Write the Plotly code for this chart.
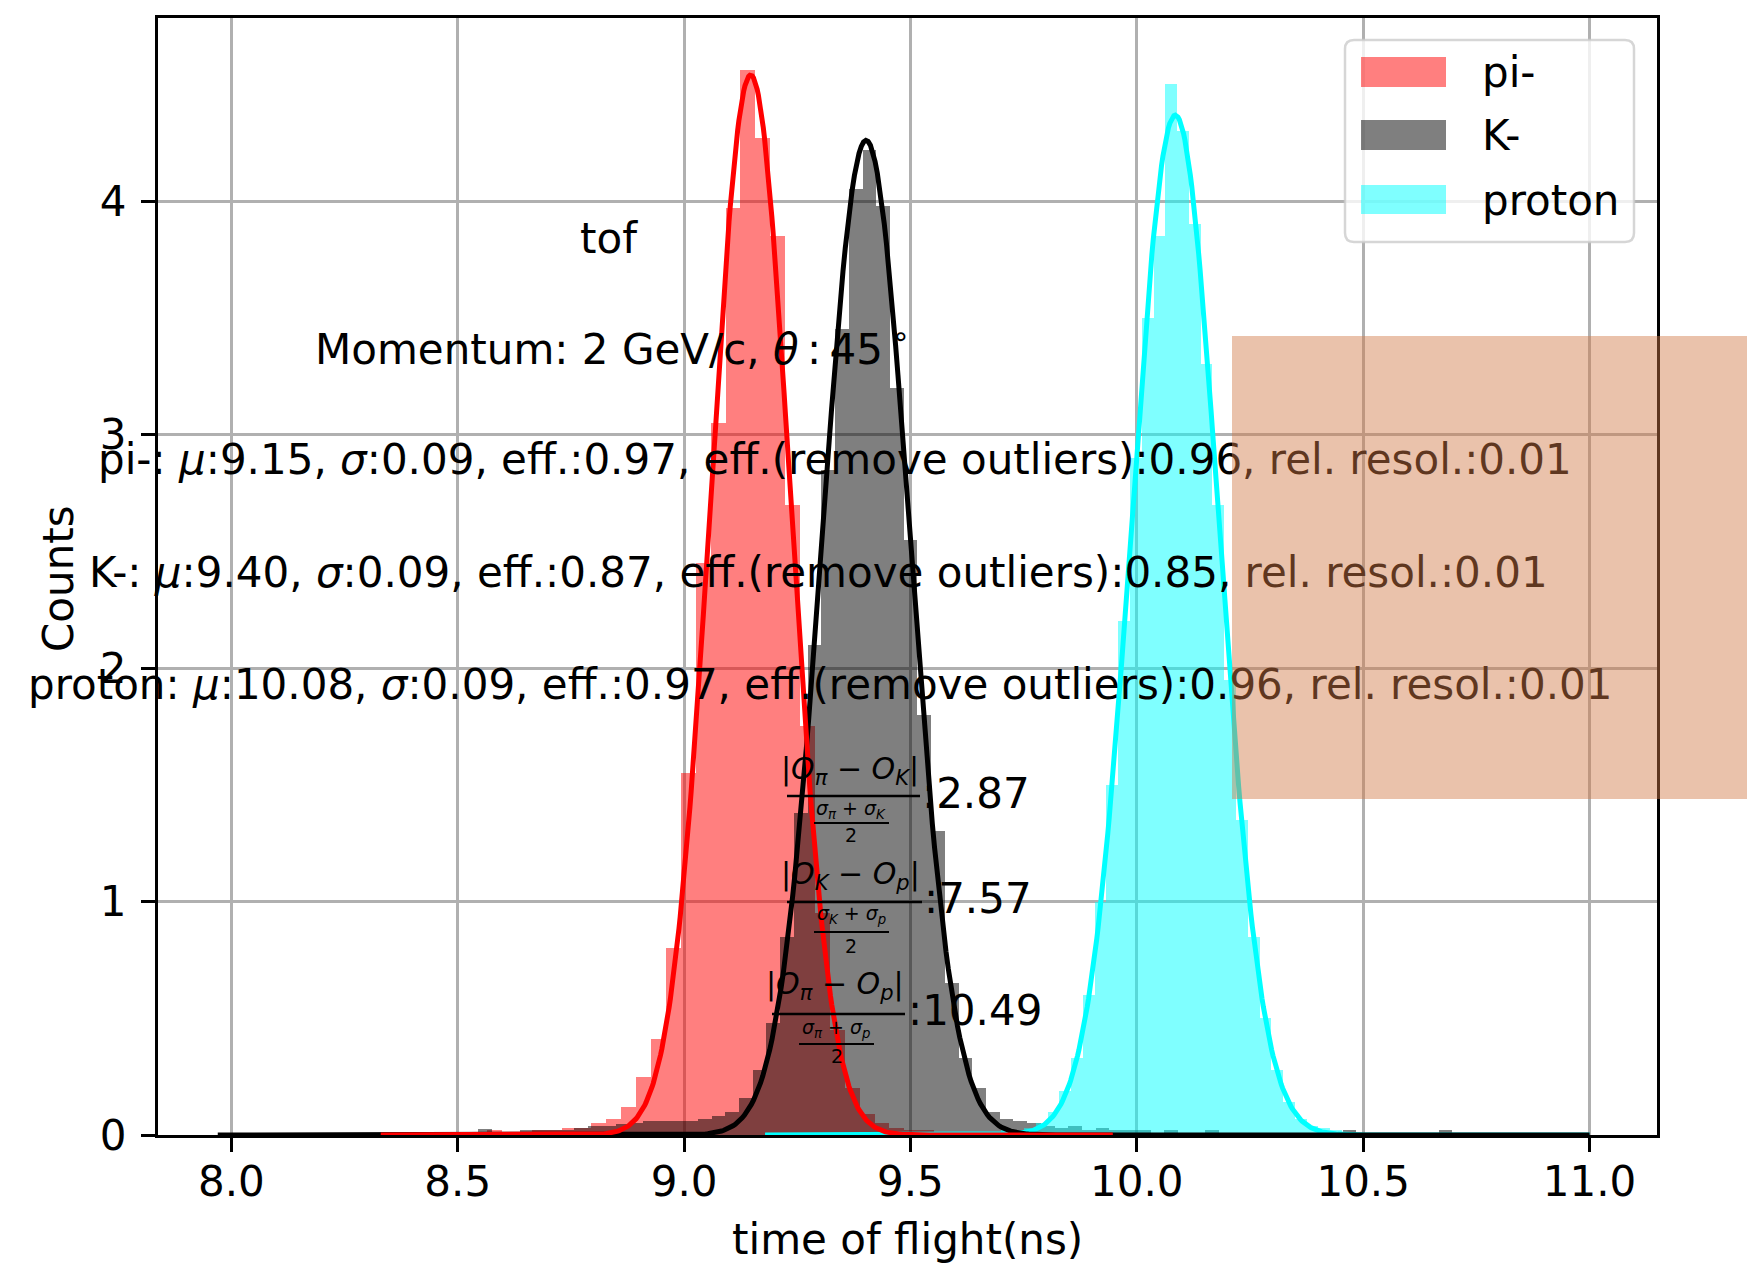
import numpy as np
import plotly.graph_objects as go

# ---------------- data ----------------
particles = ["pi-", "K-", "proton"]

pi_bin_start, pi_bin_width = 8.302, 0.0329
pi_heights = [0.01, 0.0, 0.0, 0.0, 0.01, 0.0, 0.01, 0.0, 0.02, 0.01,
              0.01, 0.02, 0.02, 0.03, 0.03, 0.05, 0.07, 0.12, 0.25, 0.41,
              0.80, 1.55, 2.45, 3.05, 3.97, 4.56, 4.27, 3.85, 2.70, 1.75,
              0.95, 0.45, 0.20, 0.09, 0.05, 0.03, 0.02, 0.02, 0.01, 0.01,
              0.0, 0.01, 0.0, 0.01, 0.0, 0.0, 0.01, 0.0, 0.0, 0.01]

k_bin_start, k_bin_width = 7.97, 0.0303
k_heights = [0.01, 0.005, 0.005, 0.01, 0.005, 0.005, 0.01, 0.005, 0.01, 0.005,
             0.01, 0.005, 0.005, 0.01, 0.01, 0.005, 0.01, 0.01, 0.01, 0.025,
             0.01, 0.01, 0.02, 0.02, 0.02, 0.02, 0.03, 0.04, 0.04, 0.045,
             0.05, 0.06, 0.06, 0.06, 0.06, 0.07, 0.08, 0.10, 0.16, 0.28,
             0.48, 0.85, 1.38, 2.10, 2.85, 3.45, 4.05, 4.22, 3.98, 3.20,
             2.55, 1.80, 1.30, 0.65, 0.33, 0.20, 0.10, 0.07, 0.06, 0.05,
             0.04, 0.03, 0.04, 0.02, 0.03, 0.02, 0.02, 0.02, 0.01, 0.02,
             0.01, 0.01, 0.02, 0.01, 0.01, 0.01, 0.01, 0.005, 0.01, 0.01,
             0.01, 0.01, 0.02, 0.01, 0.005, 0.005, 0.01, 0.005, 0.005, 0.02,
             0.005, 0.005, 0.005, 0.005, 0.005, 0.005, 0.005, 0.005, 0.005, 0.005]

p_bin_start, p_bin_width = 9.179, 0.026
p_heights = [0.01, 0.0, 0.01, 0.0, 0.0, 0.01, 0.0, 0.01, 0.0, 0.0,
             0.01, 0.0, 0.0, 0.01, 0.0, 0.0, 0.01, 0.01, 0.0, 0.01,
             0.02, 0.02, 0.03, 0.05, 0.10, 0.19, 0.33, 0.60, 1.00, 1.50,
             2.20, 2.90, 3.50, 3.85, 4.50, 4.30, 3.90, 3.30, 2.70, 1.95,
             1.35, 0.85, 0.50, 0.28, 0.14, 0.07, 0.04, 0.03, 0.02, 0.01,
             0.01, 0.01, 0.0, 0.01, 0.0, 0.01, 0.0, 0.0, 0.01, 0.0,
             0.0, 0.01, 0.0, 0.0, 0.0, 0.01, 0.0, 0.0, 0.0, 0.01]

# Gaussian fit parameters (amplitude, mean, sigma) and data range of each fit
fit_amp = [4.54, 4.26, 4.368]
fit_mu = [9.147, 9.402, 10.085]
fit_sigma = [0.0875, 0.096, 0.0955]
fit_lo = [8.33, 7.97, 9.179]
fit_hi = [9.947, 11.0, 11.0]

# text values
mu_text = ["9.15", "9.40", "10.08"]
sigma_text = ["0.09", "0.09", "0.09"]
eff_text = ["0.97", "0.87", "0.97"]
eff_clean_text = ["0.96", "0.85", "0.96"]
resol_text = ["0.01", "0.01", "0.01"]
sep_pairs = [("π", "K"), ("K", "p"), ("π", "p")]
sep_values = ["2.87", "7.57", "10.49"]

x_ticks = [8.0, 8.5, 9.0, 9.5, 10.0, 10.5, 11.0]
y_ticks = [0, 1, 2, 3, 4]

# ---------------- layout geometry ----------------
W, H = 1747, 1263
L, R, T, B = 158, 90, 18, 128
PW, PH = W - L - R, H - T - B
FONT = "DejaVu Sans"


def px(x):
    return (x - L) / PW


def py(y):
    return 1 - (y - T) / PH


hist_colors = ["rgba(255,0,0,0.5)", "rgba(0,0,0,0.5)", "rgba(0,255,255,0.5)"]
line_colors = ["#ff0000", "#000000", "#00ffff"]

fig = go.Figure()

hists = [(pi_bin_start, pi_bin_width, pi_heights),
         (k_bin_start, k_bin_width, k_heights),
         (p_bin_start, p_bin_width, p_heights)]
for (start, width, heights), col, name in zip(hists, hist_colors, particles):
    centers = start + width * (np.arange(len(heights)) + 0.5)
    fig.add_trace(go.Bar(x=centers, y=heights, width=width, name=name,
                         marker=dict(color=col, line=dict(width=0)),
                         showlegend=False, hoverinfo="skip"))

for i in [2, 1, 0]:
    xs = np.linspace(fit_lo[i], fit_hi[i], 600)
    ys = fit_amp[i] * np.exp(-0.5 * ((xs - fit_mu[i]) / fit_sigma[i]) ** 2)
    fig.add_trace(go.Scatter(x=xs, y=ys, mode="lines",
                             line=dict(color=line_colors[i], width=5),
                             showlegend=False, hoverinfo="skip"))

ann = []
shapes = []


def text(x, y, s, size=42, xanchor="left", color="#000000", angle=0):
    ann.append(dict(x=px(x), y=py(y), xref="paper", yref="paper", text=s,
                    showarrow=False, xanchor=xanchor, yanchor="middle",
                    textangle=angle,
                    font=dict(family=FONT, size=size, color=color)))


def hline(x0, x1, y, w=2.5):
    shapes.append(dict(type="line", xref="paper", yref="paper",
                       x0=px(x0), x1=px(x1), y0=py(y), y1=py(y),
                       line=dict(color="#000000", width=w), layer="above"))


# titles / headers
text(578, 239, "tof")
text(313, 347, "Momentum: 2 GeV/c, <i>θ</i>\u2009:\u200945\u2009<sup>∘</sup>")
stat_left = [96, 87, 26]
stat_y = [460, 572, 684]
for i in range(3):
    s = (f"{particles[i]}: <i>μ</i>:{mu_text[i]}, <i>σ</i>:{sigma_text[i]}, "
         f"eff.:{eff_text[i]}, eff.(remove outliers):{eff_clean_text[i]}, "
         f"rel. resol.:{resol_text[i]}")
    text(stat_left[i], stat_y[i], s)

# separation power fractions
num_pos = [(850, 770), (850, 875), (834.5, 985)]
bar_pos = [(787, 920, 796), (787, 922, 902), (772, 905, 1014)]
den_pos = [(851, 809), (851, 914), (836.5, 1028)]
sbar_pos = [(814, 889, 823), (814, 889, 932), (799, 874, 1044)]
two_pos = [(851, 835), (851, 946), (836.5, 1056)]
val_pos = [(920, 793), (922, 898), (906, 1010)]
for i, (a, b) in enumerate(sep_pairs):
    text(num_pos[i][0], num_pos[i][1],
         f"<i>|O<sub>{a}</sub> − O<sub>{b}</sub>|</i>", size=30, xanchor="center")
    hline(*bar_pos[i])
    text(den_pos[i][0], den_pos[i][1],
         f"<i>σ<sub>{a}</sub> + σ<sub>{b}</sub></i>", size=19, xanchor="center")
    hline(*sbar_pos[i], w=2)
    text(two_pos[i][0], two_pos[i][1], "2", size=19, xanchor="center")
    text(val_pos[i][0], val_pos[i][1], ":" + sep_values[i])

# axis titles
text(907, 1239, "time of flight(ns)", xanchor="center")
text(58, 579, "Counts", xanchor="center", angle=-90)

# legend (matplotlib style)
lx0, ly0, lx1, ly1, r = 1345, 40, 1634, 242, 9
rx, ry = r / PW, r / PH
X0, X1, Y0, Y1 = px(lx0), px(lx1), py(ly1), py(ly0)
path = (f"M {X0+rx},{Y0} L {X1-rx},{Y0} Q {X1},{Y0} {X1},{Y0+ry} "
        f"L {X1},{Y1-ry} Q {X1},{Y1} {X1-rx},{Y1} L {X0+rx},{Y1} "
        f"Q {X0},{Y1} {X0},{Y1-ry} L {X0},{Y0+ry} Q {X0},{Y0} {X0+rx},{Y0} Z")
shapes.append(dict(type="path", xref="paper", yref="paper", path=path,
                   fillcolor="rgba(255,255,255,0.8)",
                   line=dict(color="rgba(204,204,204,0.8)", width=2.5),
                   layer="above"))
patch_y = [(57, 87), (120, 150), (185, 214)]
for i in range(3):
    shapes.append(dict(type="rect", xref="paper", yref="paper",
                       x0=px(1361), x1=px(1446),
                       y0=py(patch_y[i][1]), y1=py(patch_y[i][0]),
                       fillcolor=hist_colors[i], line=dict(width=0),
                       layer="above"))
    text(1480, (patch_y[i][0] + patch_y[i][1]) / 2 + 1, particles[i])

# semi-transparent overlay box (drawn on top of everything)
ann.append(dict(x=px(1232), y=py(336), xref="paper", yref="paper",
                text=" ", showarrow=False, xanchor="left", yanchor="top",
                width=515, height=463, borderpad=0, borderwidth=0,
                bgcolor="rgba(209,121,70,0.455)",
                font=dict(family=FONT, size=10)))

axis_common = dict(showline=True, linecolor="#000000", linewidth=3,
                   mirror=True, ticks="outside", ticklen=14, tickwidth=3,
                   tickcolor="#000000", showgrid=True, gridcolor="#b0b0b0",
                   gridwidth=2.5, zeroline=False,
                   tickfont=dict(family=FONT, size=42, color="#000000"))

fig.update_layout(
    width=W, height=H,
    margin=dict(l=L, r=R, t=T, b=B, pad=0),
    paper_bgcolor="white", plot_bgcolor="white",
    barmode="overlay", bargap=0,
    showlegend=False,
    xaxis=dict(range=[7.838, 11.149], tickvals=x_ticks,
               ticktext=[f"{v:.1f}" for v in x_ticks],
               ticklabelstandoff=-6, **axis_common),
    yaxis=dict(range=[0, 4.784], tickvals=y_ticks,
               ticktext=[str(v) for v in y_ticks],
               ticklabelstandoff=6, **axis_common),
    annotations=ann, shapes=shapes,
)

fig.write_html("out.html")
